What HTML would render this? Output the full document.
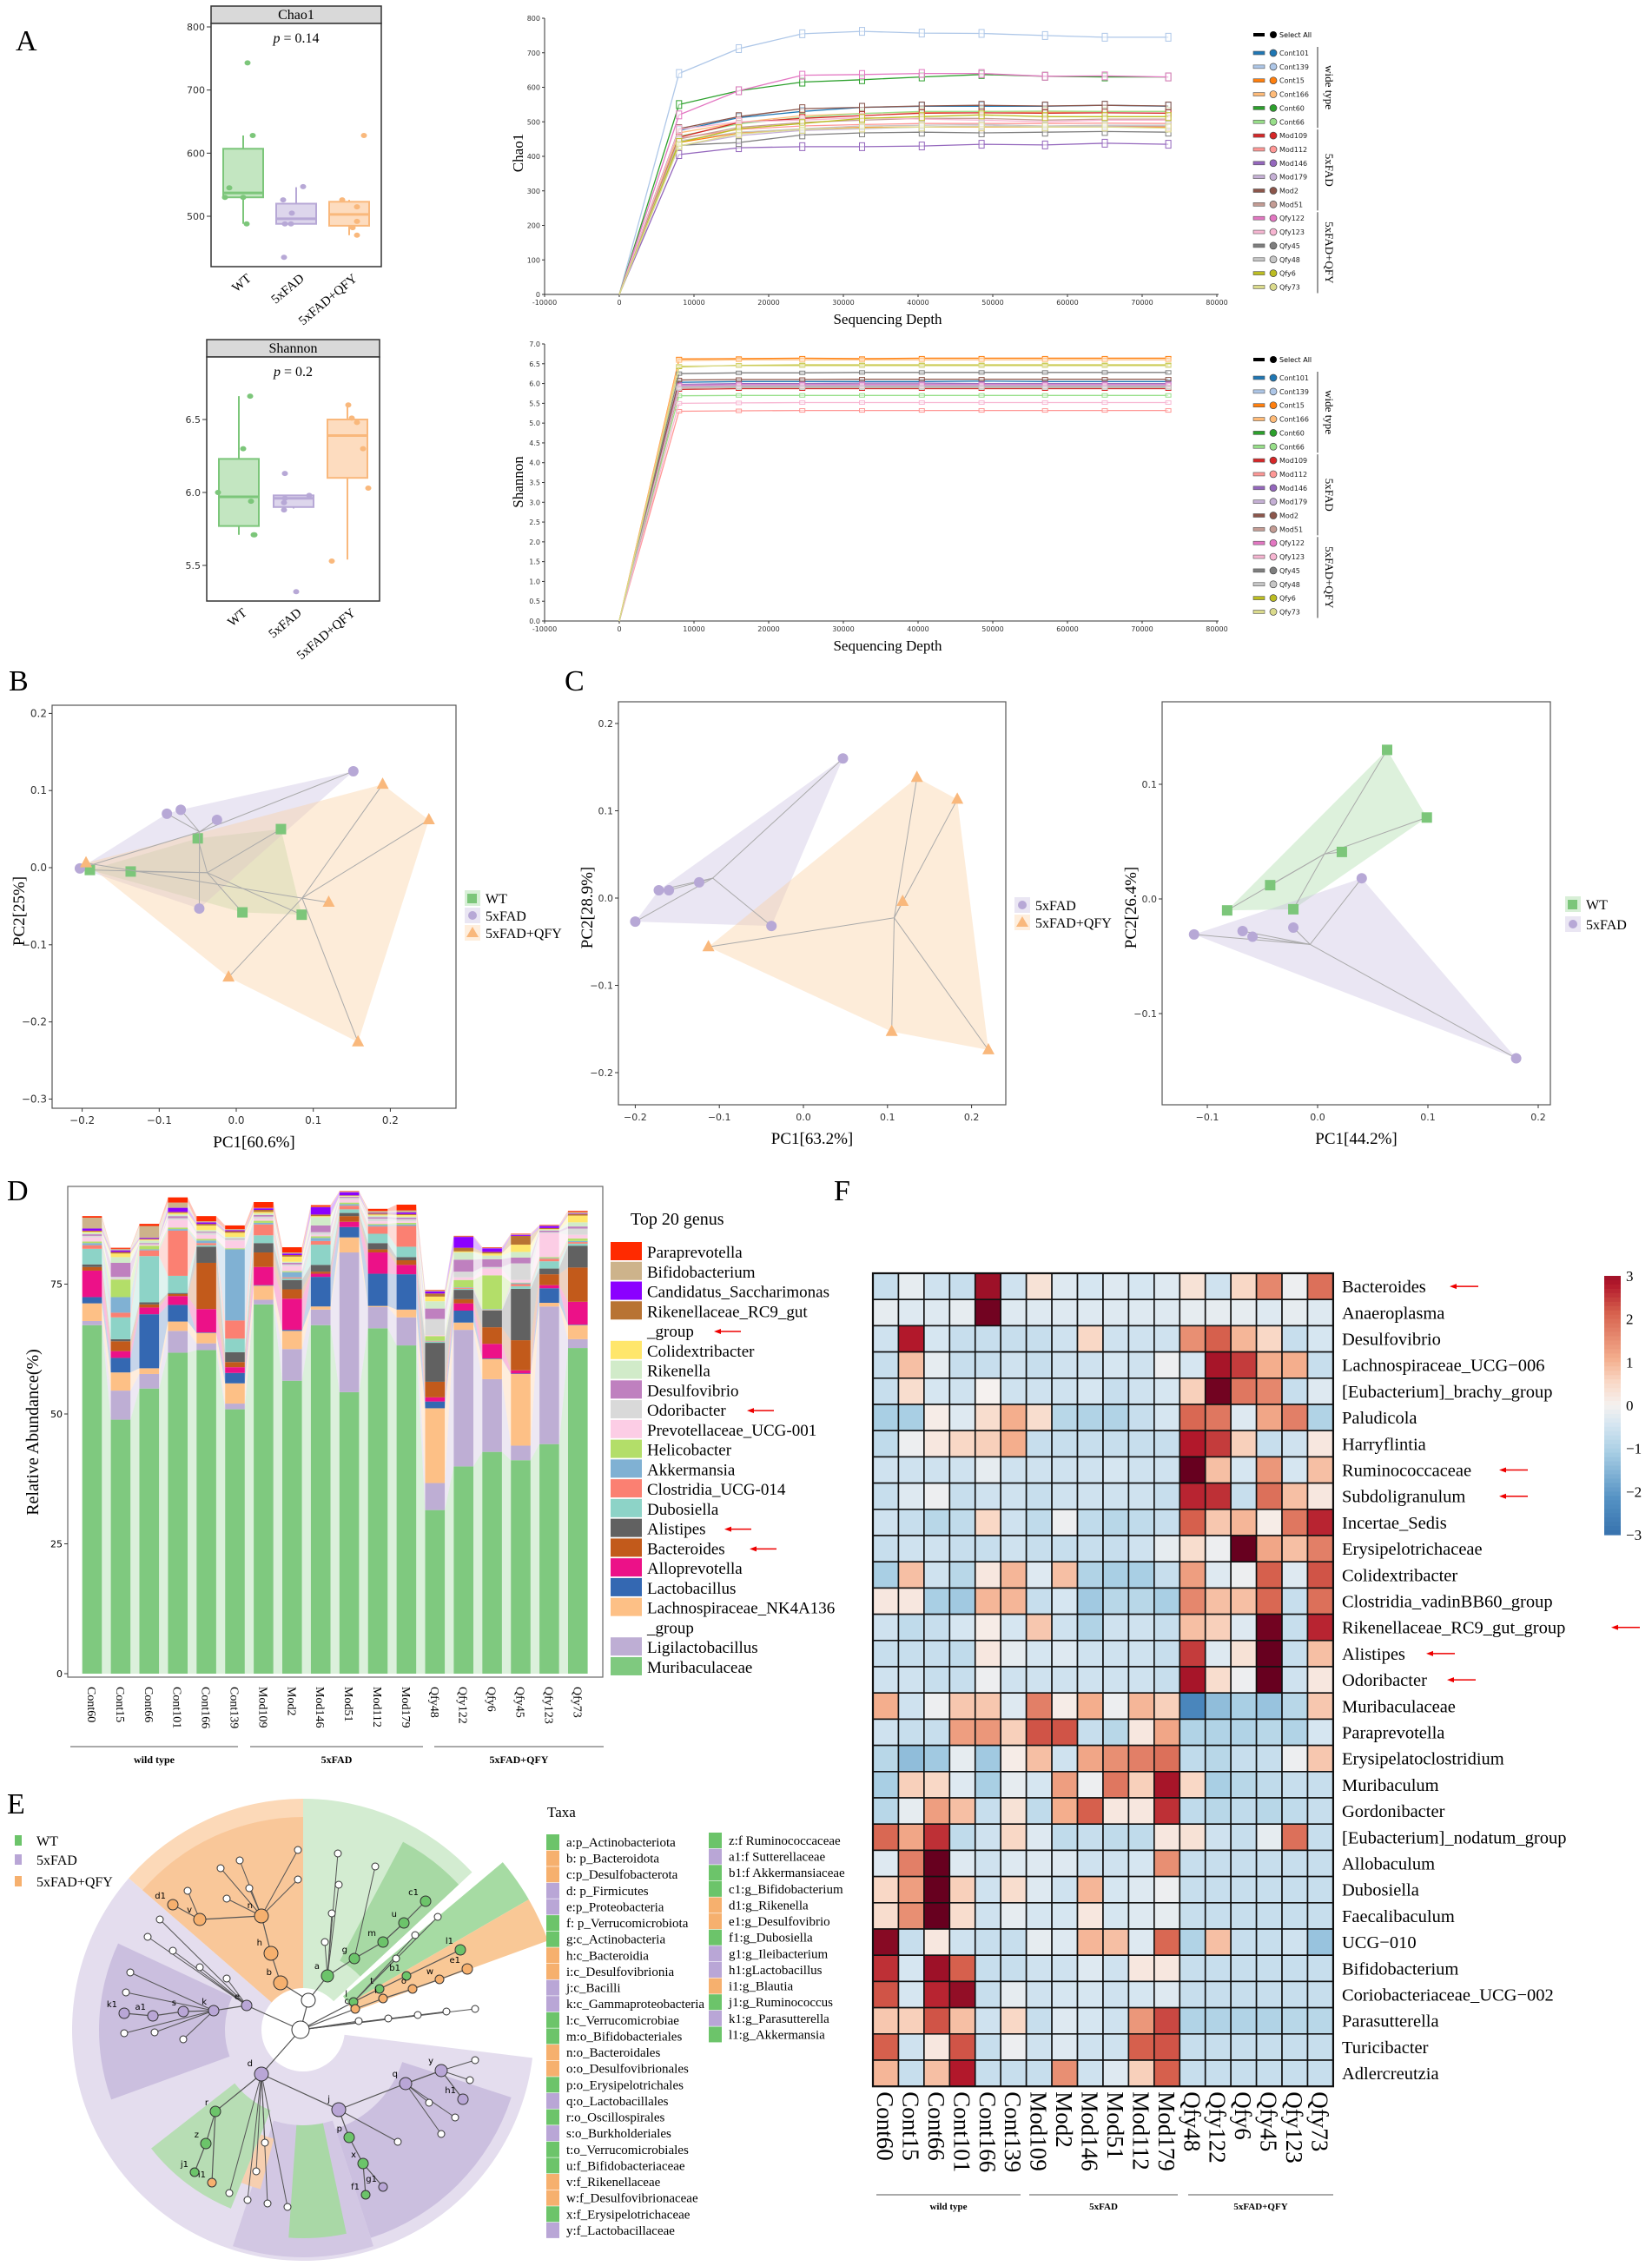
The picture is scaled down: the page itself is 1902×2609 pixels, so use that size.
<!DOCTYPE html>
<html><head><meta charset="utf-8"><title>Microbiome figure</title>
<style>
html,body{margin:0;padding:0;background:#fff;}
svg{display:block;}
text{font-family:"Liberation Serif",serif;}
.sans{font-family:"DejaVu Sans","Liberation Sans",sans-serif;}
</style></head>
<body>
<svg id="fig" xmlns="http://www.w3.org/2000/svg" width="1902" height="2609" viewBox="0 0 1902 2609">
<rect x="0" y="0" width="1902" height="2609" fill="#fff"/>
<text x="18" y="58" font-size="34">A</text>
<text x="10" y="795" font-size="34">B</text>
<text x="650" y="795" font-size="34">C</text>
<text x="8" y="1382" font-size="34">D</text>
<text x="960" y="1382" font-size="34">F</text>
<text x="8" y="2088" font-size="34">E</text>
</svg>
<script>
// ---------------- DATA ----------------
const boxGroups=['WT','5xFAD','5xFAD+QFY'];
const chaoQ1=[530,488,485], chaoMed=[537,496,503], chaoQ3=[607,520,523], chaoLo=[488,488,470], chaoHi=[628,546,526];
const chaoPtsWT=[743,628,545,530,530,488], chaoPts5x=[547,526,505,488,488,435], chaoPtsQ=[628,526,515,492,482,470];
const shQ1=[5.77,5.90,6.10], shMed=[5.97,5.96,6.39], shQ3=[6.23,5.98,6.50], shLo=[5.71,5.89,5.54], shHi=[6.66,5.98,6.60];
const shPtsWT=[6.66,6.30,6.00,5.94,5.71,5.71], shPts5x=[6.13,5.98,5.96,5.93,5.88,5.32], shPtsQ=[6.60,6.51,6.48,6.30,6.03,5.53];
const samples=['Cont101','Cont139','Cont15','Cont166','Cont60','Cont66','Mod109','Mod112','Mod146','Mod179','Mod2','Mod51','Qfy122','Qfy123','Qfy45','Qfy48','Qfy6','Qfy73'];
const depths=[8000,16000,24500,32500,40500,48500,57000,65000,73500];
const chao1Vals=[
[475,512,530,542,545,545,545,548,545],
[640,712,755,762,757,756,750,745,745],
[440,468,478,484,485,485,485,486,485],
[468,498,518,524,528,530,528,530,530],
[550,590,615,622,630,637,632,630,630],
[458,494,513,524,530,530,531,530,530],
[455,498,510,518,525,526,525,526,525],
[452,478,488,492,495,495,495,496,495],
[405,425,428,428,430,435,433,438,435],
[430,460,475,480,485,488,485,488,488],
[480,515,538,542,546,548,546,548,546],
[450,484,498,505,510,510,505,508,508],
[520,590,635,637,640,640,632,633,630],
[478,500,505,512,508,505,500,505,505],
[432,440,462,468,470,468,470,472,470],
[445,470,480,488,490,492,488,490,490],
[440,480,495,510,515,520,515,515,515],
[430,465,478,482,485,486,485,485,482]];
const shannonVals=[
[6.03,6.05,6.05,6.05,6.05,6.06,6.05,6.05,6.05],
[5.93,5.95,5.95,5.95,5.95,5.95,5.95,5.95,5.95],
[6.62,6.63,6.64,6.63,6.64,6.64,6.64,6.64,6.64],
[6.58,6.60,6.60,6.60,6.60,6.60,6.60,6.60,6.60],
[5.89,5.90,5.90,5.90,5.90,5.90,5.90,5.90,5.90],
[5.69,5.70,5.70,5.70,5.70,5.70,5.70,5.70,5.70],
[5.85,5.87,5.87,5.87,5.87,5.87,5.87,5.87,5.87],
[5.30,5.31,5.32,5.32,5.32,5.32,5.32,5.32,5.32],
[5.98,6.00,6.00,6.01,6.01,6.00,6.00,6.00,6.00],
[5.96,5.97,5.98,5.98,5.98,5.98,5.98,5.98,5.98],
[6.09,6.10,6.10,6.11,6.11,6.11,6.11,6.11,6.11],
[5.90,5.92,5.92,5.92,5.92,5.92,5.92,5.92,5.92],
[5.95,5.97,5.97,5.97,5.97,5.97,5.97,5.97,5.97],
[5.50,5.51,5.52,5.52,5.52,5.52,5.52,5.52,5.52],
[6.25,6.27,6.27,6.28,6.28,6.28,6.28,6.28,6.28],
[5.88,5.90,5.90,5.90,5.90,5.90,5.90,5.90,5.90],
[6.42,6.46,6.47,6.47,6.47,6.47,6.47,6.47,6.47],
[6.44,6.45,6.45,6.45,6.45,6.45,6.45,6.45,6.45]];
const sampleColors=['#1f77b4','#aec7e8','#ff7f0e','#ffbb78','#2ca02c','#98df8a','#d62728','#ff9896','#9467bd','#c5b0d5','#8c564b','#c49c94','#e377c2','#f7b6d2','#7f7f7f','#c7c7c7','#bcbd22','#dbdb8d'];
const bWTx=[-0.19,-0.137,-0.05,0.058,0.008,0.085], bWTy=[-0.003,-0.005,0.038,0.05,-0.058,-0.061];
const b5xx=[-0.203,-0.09,-0.072,-0.025,0.152,-0.048], b5xy=[-0.001,0.07,0.075,0.062,0.125,-0.053];
const bQx=[-0.195,0.19,0.25,0.12,-0.01,0.158], bQy=[0.006,0.108,0.062,-0.045,-0.142,-0.226];
const c15xx=[-0.2,-0.172,-0.16,-0.124,0.047,-0.038], c15xy=[-0.027,0.009,0.009,0.018,0.16,-0.032];
const c1Qx=[-0.113,0.135,0.183,0.118,0.105,0.22], c1Qy=[-0.056,0.138,0.113,-0.004,-0.153,-0.174];
const c2WTx=[-0.082,-0.043,-0.022,0.022,0.063,0.099], c2WTy=[-0.01,0.012,-0.009,0.041,0.13,0.071];
const c25xx=[-0.112,-0.068,-0.059,-0.022,0.04,0.18], c25xy=[-0.031,-0.028,-0.033,-0.025,0.018,-0.139];
const barSamples=['Cont60','Cont15','Cont66','Cont101','Cont166','Cont139','Mod109','Mod2','Mod146','Mod51','Mod112','Mod179','Qfy48','Qfy122','Qfy6','Qfy45','Qfy123','Qfy73'];
const genera=['Muribaculaceae','Ligilactobacillus','Lachnospiraceae_NK4A136_group','Lactobacillus','Alloprevotella','Bacteroides','Alistipes','Dubosiella','Clostridia_UCG-014','Akkermansia','Helicobacter','Prevotellaceae_UCG-001','Odoribacter','Desulfovibrio','Rikenella','Colidextribacter','Rikenellaceae_RC9_gut_group','Candidatus_Saccharimonas','Bifidobacterium','Paraprevotella'];
const genusColors=['#7fc97f','#beaed4','#fdc086','#3468b2','#ec1188','#c25a1b','#616161','#8dd3c7','#fb8072','#80b1d3','#b3de69','#fccde5','#d9d9d9','#bf80bf','#d1ebc9','#ffe66b','#b87333','#8b00ff','#cdb38b','#ff2a00'];
const abMuri=[67.1,48.9,54.9,61.8,62.3,50.9,71.1,56.4,67.1,54.2,66.5,63.2,31.5,39.9,42.7,41.1,44.2,62.7];
const abLigi=[0.8,5.6,2.8,4.2,1.3,1.1,0.9,6.1,3.0,26.9,4.1,5.4,5.2,26.3,14.0,2.8,26.5,1.7];
const abLachno=[3.4,3.5,1.1,1.8,2.0,3.9,2.7,3.5,0.6,2.9,0.2,1.5,14.4,1.4,3.9,13.8,0.7,2.7];
const abLacto=[1.2,2.8,10.4,3.2,0.1,2.0,0.1,0.2,5.7,2.0,6.2,6.8,1.3,2.3,0.1,0.1,2.8,0.1];
const abAllo=[5.1,1.3,1.3,1.7,4.5,1.1,3.5,6.0,0.6,1.0,4.1,1.8,0.8,1.4,2.8,0.6,0.6,4.4];
const abBact=[0.7,1.9,0.6,0.4,8.9,1.0,2.8,1.8,0.4,1.1,0.6,0.9,3.0,0.8,3.2,5.8,2.1,6.6];
const abAlist=[0.5,0.4,0.4,0.2,3.1,1.9,1.8,1.8,1.3,0.6,1.2,0.6,7.5,1.8,3.2,9.9,1.1,4.2];
const abDubo=[3.0,4.2,8.9,3.3,0.3,2.6,1.5,0.3,3.9,0.7,1.8,2.0,0.2,0.2,0.1,0.5,1.4,0.4];
const abClostr=[0.7,0.9,1.1,8.7,0.4,3.5,2.1,0.2,0.7,0.7,1.4,4.0,0.1,0.2,0.1,0.4,0.5,0.3];
const abAkk=[0.4,3.0,0.2,0.3,0.5,13.7,0.3,1.0,0.6,0.3,0.3,0.3,0.1,0.1,0.1,0.2,0.1,0.2];
const abHelic=[0.3,3.4,0.7,0.3,0.3,0.2,0.4,0.2,0.3,0.3,0.2,0.3,0.9,1.4,6.5,0.1,0.2,0.5];
const abPrev=[0.8,0.1,0.2,1.5,0.8,1.5,0.4,1.0,0.3,0.6,0.5,0.3,0.2,0.5,1.3,0.5,4.6,0.7];
const abOdor=[0.3,0.4,0.1,0.3,0.4,0.3,0.4,0.3,0.5,0.3,0.5,0.4,3.1,1.1,0.3,3.2,0.2,1.2];
const abDesulf=[0.3,2.7,0.2,0.4,0.2,0.1,0.3,0.3,1.3,0.2,0.3,0.3,2.0,2.3,1.5,1.1,0.3,0.4];
const abRik=[0.3,1.1,0.5,0.3,0.3,0.3,0.3,0.2,1.6,0.1,0.3,0.2,1.4,1.4,0.7,1.1,0.2,0.8];
const abColid=[0.2,0.7,0.2,0.3,0.9,0.8,0.3,1.0,0.2,0.1,0.2,0.3,0.9,0.2,0.4,1.4,0.1,1.3];
const abRC9=[0.2,0.3,0.1,0.2,0.3,0.3,0.4,0.3,0.3,0.1,0.2,0.2,0.6,0.7,0.3,1.7,0.2,0.3];
const abCand=[0.4,0.3,0.2,0.8,0.3,0.2,0.3,0.3,1.4,0.6,0.1,0.3,0.4,2.1,0.7,0.2,0.4,0.1];
const abBifido=[2.1,0.3,2.3,1.0,0.2,0.2,0.1,0.2,0.1,0.1,0.4,0.4,0.2,0.1,0.1,0.1,0.1,0.3];
const abPara=[0.3,0.2,0.4,1.0,1.0,0.7,1.1,1.0,0.3,0.1,0.4,1.1,0.1,0.1,0.1,0.1,0.1,0.2];
const abundance=[abMuri,abLigi,abLachno,abLacto,abAllo,abBact,abAlist,abDubo,abClostr,abAkk,abHelic,abPrev,abOdor,abDesulf,abRik,abColid,abRC9,abCand,abBifido,abPara];
const yTicksD=[0,25,50,75];
const hmCols=['Cont60','Cont15','Cont66','Cont101','Cont166','Cont139','Mod109','Mod2','Mod146','Mod51','Mod112','Mod179','Qfy48','Qfy122','Qfy6','Qfy45','Qfy123','Qfy73'];
const hmRows=['Bacteroides','Anaeroplasma','Desulfovibrio','Lachnospiraceae_UCG\u2212006','[Eubacterium]_brachy_group','Paludicola','Harryflintia','Ruminococcaceae','Subdoligranulum','Incertae_Sedis','Erysipelotrichaceae','Colidextribacter','Clostridia_vadinBB60_group','Rikenellaceae_RC9_gut_group','Alistipes','Odoribacter','Muribaculaceae','Paraprevotella','Erysipelatoclostridium','Muribaculum','Gordonibacter','[Eubacterium]_nodatum_group','Allobaculum','Dubosiella','Faecalibaculum','UCG\u2212010','Bifidobacterium','Coriobacteriaceae_UCG\u2212002','Parasutterella','Turicibacter','Adlercreutzia'];
const hmVals=[
[-0.6,-0.2,-0.5,-0.6,2.8,-0.5,0.3,-0.3,-0.4,-0.3,-0.4,-0.3,0.3,-0.5,0.5,1.5,-0.1,1.8],
[-0.2,-0.3,-0.3,-0.2,3.2,-0.3,-0.3,-0.3,-0.3,-0.3,-0.3,-0.3,-0.2,-0.2,-0.2,-0.3,-0.2,-0.3],
[-0.5,2.6,-0.4,-0.6,-0.6,-0.6,-0.6,-0.5,0.5,-0.5,-0.5,-0.5,1.4,2.0,0.9,0.5,-0.6,-0.4],
[-0.6,0.8,-0.2,-0.6,-0.6,-0.5,-0.6,-0.5,-0.5,-0.4,-0.5,-0.1,-0.4,2.7,2.3,1.0,1.0,-0.6],
[-0.6,0.4,-0.4,-0.5,0.0,-0.5,-0.5,-0.5,-0.4,-0.6,-0.5,-0.4,0.6,3.2,1.7,1.5,-0.6,-0.3],
[-1.0,-1.0,0.1,-0.3,0.4,1.0,0.4,-0.8,-0.9,-0.9,-0.6,-0.4,1.9,1.7,-0.3,1.1,1.6,-0.9],
[-0.7,-0.1,0.2,0.5,0.6,1.0,-0.6,-0.6,-0.6,-0.6,-0.6,-0.6,2.6,2.3,0.6,-0.6,-0.5,0.2],
[-0.5,-0.5,-0.5,-0.5,-0.2,-0.5,-0.5,-0.5,-0.5,-0.4,-0.5,-0.5,3.3,0.8,-0.4,1.3,-0.4,0.8],
[-0.6,-0.3,-0.1,-0.6,-0.5,-0.5,-0.6,-0.5,-0.5,-0.5,-0.5,-0.6,2.5,2.4,-0.6,1.8,0.8,0.2],
[-0.5,-0.6,-0.8,-0.7,0.5,-0.5,-0.7,-0.1,-0.7,-0.8,-0.7,-0.6,2.0,0.7,0.9,0.1,1.7,2.5],
[-0.6,-0.5,-0.5,-0.6,-0.6,-0.5,-0.6,-0.6,-0.6,-0.6,-0.5,-0.2,0.4,-0.1,3.3,1.1,0.8,1.6],
[-1.0,0.8,-0.5,-0.8,0.2,0.9,-0.3,0.8,-0.9,-1.0,-1.0,-0.6,1.2,-0.3,-0.1,2.0,-0.3,2.1],
[0.2,0.2,-1.0,-1.1,0.9,0.9,-0.6,-0.4,-1.1,-0.8,-0.8,-1.0,1.5,0.8,0.8,1.9,-0.6,1.8],
[-0.5,-0.7,-0.6,-0.4,0.1,-0.4,0.7,-0.5,-0.9,-0.5,-0.5,-0.6,0.8,0.6,-0.3,3.2,-0.6,2.5],
[-0.6,-0.6,-0.6,-0.7,0.2,-0.2,-0.4,-0.3,-0.5,-0.5,-0.5,-0.6,2.3,-0.3,0.3,3.3,-0.6,0.8],
[-0.5,-0.5,-0.6,-0.6,-0.1,-0.5,-0.5,-0.5,-0.5,-0.5,-0.5,-0.6,2.7,0.4,-0.1,3.3,-0.5,0.2],
[1.0,-0.5,-0.1,0.7,0.7,-0.3,1.6,0.1,1.0,-0.1,0.9,0.6,-2.3,-1.3,-1.0,-1.2,-0.8,0.7],
[-0.5,-0.6,-0.6,1.2,1.3,0.6,2.1,2.1,-0.6,-0.8,0.2,1.1,-0.9,-0.9,-0.9,-0.8,-0.9,-0.4],
[-0.8,-1.3,-1.1,-0.2,-1.1,0.1,0.8,-0.5,1.1,1.4,1.6,1.8,-0.7,-0.8,-0.6,-0.6,-0.1,0.7],
[-1.0,0.6,0.5,-0.3,-1.0,-0.2,-0.4,1.2,-0.1,1.7,0.6,2.7,0.5,-1.0,-0.8,-0.7,-0.6,-0.6],
[-0.8,-0.2,1.2,0.8,-0.6,0.3,-0.7,1.0,2.0,0.2,0.2,2.4,-0.7,-0.8,-0.7,-0.8,-0.7,-0.6],
[1.9,1.1,2.4,-0.7,-0.5,0.5,-0.3,-0.7,-0.6,-0.7,-0.7,0.2,0.3,-0.5,-0.6,-0.2,1.8,-0.6],
[-0.3,1.6,3.3,-0.3,-0.5,-0.3,-0.3,-0.3,-0.5,-0.5,-0.4,1.4,-0.6,-0.6,-0.6,-0.6,-0.6,-0.6],
[0.5,1.2,3.3,0.6,-0.5,0.4,-0.3,-0.5,0.9,-0.4,-0.3,-0.1,-0.6,-0.6,-0.6,-0.6,-0.6,-0.6],
[0.4,1.4,3.3,0.4,-0.5,-0.2,-0.4,-0.4,0.2,-0.4,-0.3,-0.2,-0.6,-0.6,-0.6,-0.6,-0.6,-0.6],
[3.0,-0.6,0.2,-0.5,-0.6,-0.6,-0.2,-0.3,0.9,0.8,-0.3,1.9,-0.9,0.8,-0.6,-0.6,-0.5,-1.2],
[2.4,-0.4,2.8,2.0,-0.6,-0.6,-0.5,-0.5,-0.3,-0.5,0.2,0.2,-0.6,-0.6,-0.6,-0.6,-0.6,-0.6],
[2.1,-0.4,2.5,2.9,-0.6,-0.2,-0.5,-0.4,-0.4,-0.5,-0.4,-0.3,-0.6,-0.6,-0.6,-0.6,-0.6,-0.6],
[0.7,0.6,2.1,0.8,-0.5,0.5,-0.6,-0.3,-0.4,-0.5,1.3,2.2,-0.9,-0.9,-0.9,-0.9,-0.8,-0.8],
[2.0,-0.5,0.2,2.1,-0.6,-0.1,-0.5,-0.3,-0.5,-0.5,2.0,2.1,-0.6,-0.6,-0.6,-0.6,-0.6,-0.6],
[0.9,-0.6,0.8,2.6,-0.6,-0.6,-0.6,1.4,-0.5,-0.3,0.6,2.0,-0.6,-0.6,-0.6,-0.6,-0.6,-0.6]];
const hmArrowRows=[0,7,8,13,14,15];
const colorbarTicks=[3,2,1,0,-1,-2,-3];

// ---------------- HELPERS ----------------
const NS='http://www.w3.org/2000/svg';
const svg=document.getElementById('fig');
function mk(tag,attrs,parent){const e=document.createElementNS(NS,tag);for(const k in attrs)e.setAttribute(k,attrs[k]);(parent||svg).appendChild(e);return e;}
function tx(str,attrs,parent){const e=mk('text',attrs,parent);e.textContent=str;return e;}
function lerp(a,b,t){return a+(b-a)*t;}
function hexToRgb(h){return [parseInt(h.slice(1,3),16),parseInt(h.slice(3,5),16),parseInt(h.slice(5,7),16)];}
function hull(pts){const p=pts.slice().sort((a,b)=>a[0]-b[0]||a[1]-b[1]);const cr=(o,a,b)=>(a[0]-o[0])*(b[1]-o[1])-(a[1]-o[1])*(b[0]-o[0]);const lo=[],up=[];for(const q of p){while(lo.length>=2&&cr(lo[lo.length-2],lo[lo.length-1],q)<=0)lo.pop();lo.push(q);}for(let i=p.length-1;i>=0;i--){const q=p[i];while(up.length>=2&&cr(up[up.length-2],up[up.length-1],q)<=0)up.pop();up.push(q);}up.pop();lo.pop();return lo.concat(up);}

// ---------------- A: BOXPLOTS ----------------
const grpStroke=['#7cc67a','#b7a8d6','#f9b87c'], grpFill=['#c3e6c1','#ddd6ec','#fddcbf'];
function drawBox(cfg){
  const g=mk('g',{});
  
  
  mk('rect',{x:cfg.x0,y:cfg.hy,width:cfg.x1-cfg.x0,height:cfg.py-cfg.hy,fill:'#d9d9d9',stroke:'#333','stroke-width':1.5},g);
  const ht=tx(cfg.title,{x:(cfg.x0+cfg.x1)/2,y:cfg.py-5,'font-size':16,'text-anchor':'middle'},g);
  
  
  mk('rect',{x:cfg.x0,y:cfg.py,width:cfg.x1-cfg.x0,height:cfg.by-cfg.py,fill:'#fff',stroke:'#333','stroke-width':1.5},g);
  const pt=tx('',{x:(cfg.x0+cfg.x1)/2,y:cfg.py+22,'font-size':16,'text-anchor':'middle'},g);
  pt.innerHTML='<tspan font-style="italic">p</tspan> = '+cfg.p;
  
  
  cfg.ticks.forEach(t=>{const y=cfg.ys(t);mk('line',{x1:cfg.x0-5,x2:cfg.x0,y1:y,y2:y,stroke:'#333'},g);
    const tl=tx(cfg.fmt(t),{x:cfg.x0-7,y:y+4,'font-size':11,'text-anchor':'end',class:'sans',fill:'#333'},g);
    
    });
  boxGroups.forEach((gn,i)=>{const cx=cfg.cx[i],w=23;
    mk('line',{x1:cx,x2:cx,y1:cfg.ys(cfg.hi[i]),y2:cfg.ys(cfg.lo[i]),stroke:grpStroke[i],'stroke-width':2},g);
    const b=mk('rect',{x:cx-w,y:cfg.ys(cfg.q3[i]),width:2*w,height:cfg.ys(cfg.q1[i])-cfg.ys(cfg.q3[i]),fill:grpFill[i],stroke:grpStroke[i],'stroke-width':2},g);
    
    
    mk('line',{x1:cx-w,x2:cx+w,y1:cfg.ys(cfg.med[i]),y2:cfg.ys(cfg.med[i]),stroke:grpStroke[i],'stroke-width':3},g);
    cfg.pts[i].forEach((v,j)=>{const c=mk('ellipse',{cx:cx+cfg.jit[i][j],cy:cfg.ys(v),rx:3.5,ry:3,fill:grpStroke[i]},g);
      
      });
    const xl=tx(gn,{x:0,y:0,'font-size':15,'text-anchor':'end',transform:`translate(${cx+10},${cfg.by+15}) rotate(-40)`},g);
    
    
  });
}
drawBox({name:'chao1-boxplot',title:'Chao1',p:'0.14',x0:243,x1:439,hy:7,py:27,by:307,ys:v=>31+(800-v)*0.7267,ticks:[800,700,600,500],fmt:t=>String(t),
  cx:[280,341,402],q1:chaoQ1,med:chaoMed,q3:chaoQ3,lo:chaoLo,hi:chaoHi,pts:[chaoPtsWT,chaoPts5x,chaoPtsQ],
  jit:[[5,11,-16,-21,0,4],[8,-15,-5,-13,-6,-14],[17,-8,9,9,4,9]]});
drawBox({name:'shannon-boxplot',title:'Shannon',p:'0.2',x0:238,x1:437,hy:391,py:411,by:692,ys:v=>567-(v-6.0)*168,ticks:[6.5,6.0,5.5],fmt:t=>t.toFixed(1),
  cx:[275,338,400],q1:shQ1,med:shMed,q3:shQ3,lo:shLo,hi:shHi,pts:[shPtsWT,shPts5x,shPtsQ],
  jit:[[13,5,-24,14,17,18],[-10,18,-10,-11,-11,3],[1,5,11,18,24,-18]]});

// ---------------- A: RAREFACTION ----------------
function drawRare(cfg){
  const g=mk('g',{});
  
  
  const xs=d=>713+d*0.0086;
  mk('line',{x1:627,x2:1403,y1:cfg.ys(0),y2:cfg.ys(0),stroke:'#333'},g);
  mk('line',{x1:627,x2:627,y1:cfg.ys(cfg.ymax),y2:cfg.ys(0),stroke:'#333'},g);
  for(let d=-10000;d<=80000;d+=10000){const x=xs(d);mk('line',{x1:x,x2:x,y1:cfg.ys(0),y2:cfg.ys(0)+3,stroke:'#333'},g);
    const t=tx(String(d),{x:x,y:cfg.ys(0)+12,'font-size':8,'text-anchor':'middle',class:'sans',fill:'#333'},g);
    
    }
  cfg.yt.forEach(v=>{const y=cfg.ys(v);mk('line',{x1:624,x2:627,y1:y,y2:y,stroke:'#333'},g);
    const t=tx(cfg.fmt(v),{x:622,y:y+3,'font-size':8,'text-anchor':'end',class:'sans',fill:'#333'},g);
    
    });
  const xt=tx('Sequencing Depth',{x:1022,y:cfg.ys(0)+34,'font-size':17,'text-anchor':'middle'},g);
  
  
  const yt=tx(cfg.ytitle,{x:0,y:0,'font-size':17,'text-anchor':'middle',transform:`translate(602,${cfg.ytY}) rotate(-90)`},g);
  
  
  cfg.vals.forEach((arr,i)=>{
    let d='M'+xs(0)+','+cfg.ys(0);
    arr.forEach((v,j)=>{d+=' L'+xs(depths[j]).toFixed(1)+','+cfg.ys(v).toFixed(1);});
    const p=mk('path',{d:d,fill:'none',stroke:sampleColors[i],'stroke-width':1.3},g);
    
    
    arr.forEach((v,j)=>{const r=mk('rect',{x:xs(depths[j])-3,y:cfg.ys(v)-cfg.bh/2,width:6,height:cfg.bh,fill:'#fff','fill-opacity':0.5,stroke:sampleColors[i],'stroke-width':1},g);
      
      });
  });
  const lg=mk('g',{},g);
  
  
  const sa=cfg.ly0;
  mk('rect',{x:1443,y:sa-2,width:13,height:4,fill:'#000'},lg);
  mk('circle',{cx:1466,cy:sa,r:4,fill:'#000'},lg);
  const st=tx('Select All',{x:1473,y:sa+3,'font-size':8,class:'sans'},lg);
  
  
  samples.forEach((s,i)=>{const y=sa+21+i*15.85;
    mk('rect',{x:1443,y:y-2,width:13,height:4,fill:sampleColors[i],stroke:'#555','stroke-width':0.6},lg);
    mk('circle',{cx:1466,cy:y,r:4,fill:sampleColors[i],stroke:'#444','stroke-width':0.7},lg);
    const t=tx(s,{x:1473,y:y+3,'font-size':8,class:'sans',fill:'#222'},lg);
    
    });
  ['wide type','5xFAD','5xFAD+QFY'].forEach((gn,k)=>{const y0=sa+21+k*6*15.85-7,y1=sa+21+(k*6+5)*15.85+7;
    mk('line',{x1:1517,x2:1517,y1:y0,y2:y1,stroke:'#333'},lg);
    const t=tx(gn,{x:0,y:0,'font-size':13,'text-anchor':'middle',transform:`translate(1526,${(y0+y1)/2}) rotate(90)`},lg);
    
    });
}
drawRare({name:'chao1-rarefaction',vals:chao1Vals,ys:v=>339-v*0.3975,ymax:800,yt:[0,100,200,300,400,500,600,700,800],fmt:v=>String(v),ytitle:'Chao1',ytY:176,bh:9,ly0:40});
drawRare({name:'shannon-rarefaction',vals:shannonVals,ys:v=>715-v*45.57,ymax:7,yt:[0,0.5,1,1.5,2,2.5,3,3.5,4,4.5,5,5.5,6,6.5,7],fmt:v=>v.toFixed(1),ytitle:'Shannon',ytY:555,bh:4,ly0:414});

// ---------------- B/C: PCoA ----------------
const pcStyle={WT:{col:'#7cc67a',fill:'#8fd18c',op:0.3,shape:'sq'},'5xFAD':{col:'#b7a8d6',fill:'#c2b6de',op:0.35,shape:'ci'},'5xFAD+QFY':{col:'#f9b87c',fill:'#fbcf9f',op:0.4,shape:'tr'}};
function drawPCoA(cfg){
  const g=mk('g',{});
  
  
  const [x0,y0,x1,y1]=cfg.frame;
  mk('rect',{x:x0,y:y0,width:x1-x0,height:y1-y0,fill:'#fff',stroke:'#555','stroke-width':1.2},g);
  cfg.xt.forEach(v=>{const x=cfg.xs(v);mk('line',{x1:x,x2:x,y1:y1,y2:y1+4,stroke:'#333'},g);
    const t=tx(v===0?'0.0':String(v).replace('-','\u2212'),{x:x,y:y1+18,'font-size':cfg.fs,'text-anchor':'middle',class:'sans',fill:'#333'},g);
    
    });
  cfg.yt.forEach(v=>{const y=cfg.ys(v);mk('line',{x1:x0-4,x2:x0,y1:y,y2:y,stroke:'#333'},g);
    const t=tx(v===0?'0.0':String(v).replace('-','\u2212'),{x:x0-6,y:y+4,'font-size':cfg.fs,'text-anchor':'end',class:'sans',fill:'#333'},g);
    
    });
  const xl=tx(cfg.xlab,{x:(x0+x1)/2,y:y1+45,'font-size':19,'text-anchor':'middle'},g);
  
  
  const yl=tx(cfg.ylab,{x:0,y:0,'font-size':19,'text-anchor':'middle',transform:`translate(${cfg.ylx},${(y0+y1)/2+5}) rotate(-90)`},g);
  
  
  cfg.groups.forEach(gr=>{const st=pcStyle[gr.name];const pts=gr.x.map((v,i)=>[cfg.xs(v),cfg.ys(gr.y[i])]);
    const h=hull(pts);const poly=mk('polygon',{points:h.map(p=>p.join(',')).join(' '),fill:st.fill,'fill-opacity':st.op,stroke:'none'},g);
    
    });
  cfg.groups.forEach(gr=>{const st=pcStyle[gr.name];
    const mx=gr.x.reduce((a,b)=>a+b,0)/gr.x.length,my=gr.y.reduce((a,b)=>a+b,0)/gr.y.length;
    gr.x.forEach((v,i)=>{mk('line',{x1:cfg.xs(mx),y1:cfg.ys(my),x2:cfg.xs(v),y2:cfg.ys(gr.y[i]),stroke:'#aaa','stroke-width':1},g);});
    gr.x.forEach((v,i)=>{const px=cfg.xs(v),py=cfg.ys(gr.y[i]);let m;
      if(st.shape==='sq')m=mk('rect',{x:px-6,y:py-6,width:12,height:12,fill:st.col},g);
      else if(st.shape==='ci')m=mk('circle',{cx:px,cy:py,r:6,fill:st.col},g);
      else m=mk('polygon',{points:`${px},${py-8} ${px-7},${py+5} ${px+7},${py+5}`,fill:st.col},g);
      
      });
  });
  cfg.groups.forEach((gr,k)=>{const st=pcStyle[gr.name];const y=cfg.ly+k*cfg.lsp;
    mk('rect',{x:cfg.lx-8,y:y-9,width:18,height:18,fill:st.fill,'fill-opacity':0.35},g);
    if(st.shape==='sq')mk('rect',{x:cfg.lx-5,y:y-5,width:11,height:11,fill:st.col},g);
    else if(st.shape==='ci')mk('circle',{cx:cfg.lx+1,cy:y,r:5,fill:st.col},g);
    else mk('polygon',{points:`${cfg.lx+1},${y-7} ${cfg.lx-6},${y+5} ${cfg.lx+8},${y+5}`,fill:st.col},g);
    const t=tx(gr.name,{x:cfg.lx+16,y:y+6,'font-size':16},g);
    
    });
}
drawPCoA({name:'pcoa-all-groups',frame:[60,812,525,1276],xs:v=>272+v*887,ys:v=>999-v*888,xt:[-0.2,-0.1,0,0.1,0.2],yt:[0.2,0.1,0,-0.1,-0.2,-0.3],fs:12,
  xlab:'PC1[60.6%]',ylab:'PC2[25%]',ylx:28,groups:[{name:'WT',x:bWTx,y:bWTy},{name:'5xFAD',x:b5xx,y:b5xy},{name:'5xFAD+QFY',x:bQx,y:bQy}],lx:543,ly:1034,lsp:20});
drawPCoA({name:'pcoa-5xfad-vs-qfy',frame:[712,808,1158,1272],xs:v=>925+v*968,ys:v=>1034-v*1005,xt:[-0.2,-0.1,0,0.1,0.2],yt:[0.2,0.1,0,-0.1,-0.2],fs:11,
  xlab:'PC1[63.2%]',ylab:'PC2[28.9%]',ylx:682,groups:[{name:'5xFAD',x:c15xx,y:c15xy},{name:'5xFAD+QFY',x:c1Qx,y:c1Qy}],lx:1176,ly:1042,lsp:20});
drawPCoA({name:'pcoa-wt-vs-5xfad',frame:[1338,808,1785,1272],xs:v=>1517+v*1270,ys:v=>1035-v*1320,xt:[-0.1,0,0.1,0.2],yt:[0.1,0,-0.1],fs:11,
  xlab:'PC1[44.2%]',ylab:'PC2[26.4%]',ylx:1308,groups:[{name:'WT',x:c2WTx,y:c2WTy},{name:'5xFAD',x:c25xx,y:c25xy}],lx:1810,ly:1041,lsp:23});

// ---------------- D: STACKED BARS ----------------
(function(){
  const g=mk('g',{});
  
  
  const ys=v=>1927-v*5.98, xs=i=>106+i*32.9, bw=22.6;
  mk('rect',{x:78,y:1366,width:616,height:565,fill:'#fff',stroke:'#666','stroke-width':1.2},g);
  for(let i=0;i<barSamples.length-1;i++){let c0=0,c1=0;
    abundance.forEach((arr,k)=>{const a0=c0,a1=c1;c0+=arr[i];c1+=arr[i+1];
      const r=mk('polygon',{points:`${xs(i)+bw/2},${ys(a0)} ${xs(i)+bw/2},${ys(c0)} ${xs(i+1)-bw/2},${ys(c1)} ${xs(i+1)-bw/2},${ys(a1)}`,fill:genusColors[k],'fill-opacity':0.28},g);
      
      });}
  barSamples.forEach((s,i)=>{let cum=0;
    abundance.forEach((arr,k)=>{const v=arr[i];
      const r=mk('rect',{x:xs(i)-bw/2,y:ys(cum+v),width:bw,height:v*5.98,fill:genusColors[k]},g);
      
      
      cum+=v;});
    const t=tx(s,{x:0,y:0,'font-size':14,transform:`translate(${xs(i)-5},1942) rotate(90)`},g);
    
    });
  yTicksD.forEach(v=>{const y=ys(v);mk('line',{x1:74,x2:78,y1:y,y2:y,stroke:'#333'},g);
    const t=tx(String(v),{x:72,y:y+4,'font-size':11,'text-anchor':'end',class:'sans'},g);
    
    });
  const yt=tx('Relative Abundance(%)',{x:0,y:0,'font-size':20,'text-anchor':'middle',transform:'translate(44,1649) rotate(-90)'},g);
  
  
  [['wild type',81,274],['5xFAD',288,487],['5xFAD+QFY',500,695]].forEach(([n,a,b])=>{
    mk('line',{x1:a,x2:b,y1:2011,y2:2011,stroke:'#555'},g);
    const t=tx(n,{x:(a+b)/2,y:2030,'font-size':12,'font-weight':'bold','text-anchor':'middle'},g);
    
    });
  const lg=mk('g',{},g);
  
  
  const lt=tx('Top 20 genus',{x:726,y:1410,'font-size':20},lg);
  
  
  const rows=[['Paraprevotella',19],['Bifidobacterium',18],['Candidatus_Saccharimonas',17],['Rikenellaceae_RC9_gut',16],['_group',-1,'arrow'],['Colidextribacter',15],['Rikenella',14],['Desulfovibrio',13],['Odoribacter',12,'arrow'],['Prevotellaceae_UCG-001',11],['Helicobacter',10],['Akkermansia',9],['Clostridia_UCG-014',8],['Dubosiella',7],['Alistipes',6,'arrow'],['Bacteroides',5,'arrow'],['Alloprevotella',4],['Lactobacillus',3],['Lachnospiraceae_NK4A136',2],['_group',-1],['Ligilactobacillus',1],['Muribaculaceae',0]];
  const arrowX={4:822,8:860,14:834,15:863};
  rows.forEach((r,i)=>{const y=1441+i*22.76;
    if(r[1]>=0){const sq=mk('rect',{x:703,y:y-11,width:36,height:21,fill:genusColors[r[1]]},lg);
      
      }
    const t=tx(r[0],{x:745,y:y+7,'font-size':19},lg);
    
    
    if(r[2]){const ax=arrowX[i];mk('line',{x1:ax+5,x2:ax+31,y1:y+1,y2:y+1,stroke:'#e00','stroke-width':1.5},lg);
      mk('polygon',{points:`${ax},${y+1} ${ax+8},${y-2} ${ax+8},${y+4}`,fill:'#e00'},lg);}
  });
})();

// ---------------- E: CLADOGRAM ----------------
const cladeCol={G:'#6cc46a',O:'#f6b06e',L:'#b9a6d6',W:'#ffffff'};
const cladeNodes=[
['',346,2337,-1,'W',10],['',355,2303,0,'W',8],['a',377,2275,1,'G',7],['b',323,2283,1,'O',8],['h',312,2249,3,'O',8],['n',301,2206,4,'O',8],
['v',230,2210,5,'O',7],['d1',199,2193,6,'O',6],['e',284,2309,0,'L',6],['k',246,2315,8,'L',6],['s',211,2316,9,'L',6],['a1',176,2321,10,'L',6],['k1',143,2318,11,'L',6],
['d',301,2388,0,'L',8],['j',390,2429,13,'L',8],['q',467,2399,14,'L',7],['y',508,2384,15,'L',7],['h1',533,2417,16,'L',6],
['r',248,2431,13,'G',6],['z',237,2468,18,'G',6],['j1',224,2501,19,'G',5],['i1',244,2513,18,'O',5],['p',402,2461,14,'G',6],['x',418,2491,22,'G',6],['f1',421,2527,23,'G',5],['g1',441,2518,23,'L',5],
['g',408,2255,2,'G',6],['m',441,2236,26,'G',6],['u',465,2214,27,'G',6],['c1',490,2189,28,'G',6],
['l',407,2305,0,'G',5],['t',437,2290,30,'G',5],['b1',468,2275,31,'G',5],['l1',530,2245,32,'G',6],
['c',409,2313,0,'O',5],['i',441,2301,34,'O',5],['o',475,2290,35,'O',5],['w',506,2279,36,'O',5],['e1',538,2267,37,'O',6]];
const cladeLeaves=[[343,2130,5],[343,2164,5],[276,2142,5],[287,2174,5],[254,2151,5],[261,2186,5],[216,2177,6],[389,2134,2],[390,2170,2],[382,2203,2],[374,2236,2],[432,2149,26],
[504,2207,30],[478,2228,30],[456,2255,30],[547,2313,0],[514,2316,0],[481,2320,0],[447,2324,0],[413,2327,0],
[184,2210,8],[170,2230,8],[199,2246,8],[230,2265,8],[261,2278,8],[150,2271,9],[145,2294,9],[143,2341,9],[178,2340,9],[211,2348,9],
[547,2372,16],[541,2395,16],[524,2438,15],[494,2421,15],[508,2457,15],[458,2466,14],[305,2467,13],[295,2500,13],[264,2525,13],[285,2533,13],[308,2537,13],[331,2541,13]];
const taxaCol1=[['a:p_Actinobacteriota','G'],['b: p_Bacteroidota','O'],['c:p_Desulfobacterota','O'],['d: p_Firmicutes','L'],['e:p_Proteobacteria','L'],['f: p_Verrucomicrobiota','G'],['g:c_Actinobacteria','G'],['h:c_Bacteroidia','O'],['i:c_Desulfovibrionia','O'],['j:c_Bacilli','L'],['k:c_Gammaproteobacteria','L'],['l:c_Verrucomicrobiae','G'],['m:o_Bifidobacteriales','G'],['n:o_Bacteroidales','O'],['o:o_Desulfovibrionales','O'],['p:o_Erysipelotrichales','G'],['q:o_Lactobacillales','L'],['r:o_Oscillospirales','G'],['s:o_Burkholderiales','L'],['t:o_Verrucomicrobiales','G'],['u:f_Bifidobacteriaceae','G'],['v:f_Rikenellaceae','O'],['w:f_Desulfovibrionaceae','O'],['x:f_Erysipelotrichaceae','G'],['y:f_Lactobacillaceae','L']];
const taxaCol2=[['z:f Ruminococcaceae','G'],['a1:f Sutterellaceae','L'],['b1:f Akkermansiaceae','G'],['c1:g_Bifidobacterium','G'],['d1:g_Rikenella','O'],['e1:g_Desulfovibrio','O'],['f1:g_Dubosiella','G'],['g1:g_Ileibacterium','L'],['h1:gLactobacillus','L'],['i1:g_Blautia','O'],['j1:g_Ruminococcus','G'],['k1:g_Parasutterella','L'],['l1:g_Akkermansia','G']];
(function(){
  const g=mk('g',{});
  
  
  const C=[349,2337];
  function wedge(a0,a1,r0,r1,fill,name){const rad=Math.PI/180;const p=(r,a)=>[C[0]+r*Math.cos(a*rad),C[1]+r*Math.sin(a*rad)];
    const A=p(r1,a0),B=p(r1,a1),Cc=p(r0,a1),D=p(r0,a0);const lg=(a1-a0)>180?1:0;
    const w=mk('path',{d:`M${A} A${r1},${r1} 0 ${lg} 1 ${B} L${Cc} A${r0},${r0} 0 ${lg} 0 ${D}Z`,fill:fill},g);
    
    }
  wedge(7,221,0,266,'#e4ddee','clade-5xfad-background');
  wedge(-139,-90,0,266,'#fcd9b8','clade-qfy-outer');
  wedge(-139,-90,0,245,'#f9c799','clade-bacteroidota');
  wedge(-90,-43,0,266,'#d3ecd1','clade-actinobacteriota');
  wedge(-62,-43,90,245,'#a7d9a4','clade-bifidobacteriales');
  wedge(160,205,90,235,'#cbbfdf','clade-gammaproteobacteria');
  wedge(18,72,120,252,'#cbbfdf','clade-lactobacillaceae');
  wedge(72,108,110,262,'#d2c7e3','clade-bacilli');
  wedge(112,142,100,222,'#b7ddb4','clade-oscillospirales');
  wedge(78,94,110,240,'#a9d8a6','clade-erysipelotrichales');
  wedge(105,112,130,190,'#f6cfb0','clade-blautia');
  wedge(-40,-30,60,300,'#a6dba3','clade-verrucomicrobia');
  wedge(-30,-20,60,300,'#f9c896','clade-desulfovibrionia');
  mk('circle',{cx:C[0],cy:C[1],r:48,fill:'#fff'},g);
  cladeLeaves.forEach(l=>{const p=cladeNodes[l[2]];mk('line',{x1:p[1],y1:p[2],x2:l[0],y2:l[1],stroke:'#555','stroke-width':1},g);});
  cladeNodes.forEach(n=>{if(n[3]>=0){const p=cladeNodes[n[3]];mk('line',{x1:p[1],y1:p[2],x2:n[1],y2:n[2],stroke:'#555','stroke-width':1.2},g);}});
  cladeLeaves.forEach(l=>{const c=mk('circle',{cx:l[0],cy:l[1],r:4,fill:'#fff',stroke:'#333','stroke-width':1},g);
    
    });
  cladeNodes.forEach(n=>{const c=mk('circle',{cx:n[1],cy:n[2],r:n[5],fill:cladeCol[n[4]],stroke:'#333','stroke-width':1},g);
    
    
    if(n[0]){const t=tx(n[0],{x:n[1]-n[5]-2,y:n[2]-n[5]-1,'font-size':10,'text-anchor':'end',class:'sans'},g);
      
      }});
  [['WT','G'],['5xFAD','L'],['5xFAD+QFY','O']].forEach((e,k)=>{const y=[2119,2141,2166][k];
    mk('rect',{x:17,y:y-6,width:8,height:12,fill:cladeCol[e[1]]},g);
    const t=tx(e[0],{x:42,y:y+6,'font-size':16},g);
    
    });
  const tt=tx('Taxa',{x:630,y:2092,'font-size':17},g);
  
  
  taxaCol1.forEach((e,k)=>{const y=2121+k*18.62;mk('rect',{x:629,y:y-9,width:15,height:18,fill:cladeCol[e[1]]},g);
    const t=tx(e[0],{x:652,y:y+5,'font-size':15},g);
    
    });
  taxaCol2.forEach((e,k)=>{const y=2119+k*18.62;mk('rect',{x:816,y:y-9,width:15,height:18,fill:cladeCol[e[1]]},g);
    const t=tx(e[0],{x:839,y:y+5,'font-size':15},g);
    
    });
})();

// ---------------- F: HEATMAP ----------------
const hmStops=[[-3,'#2f6aa8'],[-2,'#5592c4'],[-1,'#a9cfe4'],[-0.4,'#d6e6f1'],[0,'#f5f1ef'],[0.5,'#f9d8c6'],[1,'#f4ae8d'],[2,'#d6604d'],[2.6,'#b2182b'],[3.3,'#67001f']];
function hmColor(v){if(v<=hmStops[0][0])return hmStops[0][1];for(let i=1;i<hmStops.length;i++){if(v<=hmStops[i][0]){const t=(v-hmStops[i-1][0])/(hmStops[i][0]-hmStops[i-1][0]);const a=hexToRgb(hmStops[i-1][1]),b=hexToRgb(hmStops[i][1]);return `rgb(${Math.round(lerp(a[0],b[0],t))},${Math.round(lerp(a[1],b[1],t))},${Math.round(lerp(a[2],b[2],t))})`;}}return hmStops[hmStops.length-1][1];}
(function(){
  const g=mk('g',{});
  
  
  const x0=1005,y0=1466,cw=29.44,ch=30.2;
  hmRows.forEach((rn,r)=>{hmCols.forEach((cn,c)=>{
    const cell=mk('rect',{x:x0+c*cw,y:y0+r*ch,width:cw,height:ch,fill:hmColor(hmVals[r][c]),stroke:'#111','stroke-width':1.6},g);
    
    });
    const t=tx(rn,{x:1545,y:y0+r*ch+ch/2+7,'font-size':20.5},g);
    
    });
  mk('rect',{x:x0,y:y0,width:18*cw,height:hmRows.length*ch,fill:'none',stroke:'#111','stroke-width':2.2},g);
  const arrowX=[1669,0,0,0,0,0,0,1726,1726,0,0,0,0,1855,1642,1666];
  hmArrowRows.forEach(r=>{const ax=arrowX[r],y=y0+r*ch+ch/2;
    mk('line',{x1:ax+5,x2:ax+33,y1:y,y2:y,stroke:'#e00','stroke-width':1.5},g);
    mk('polygon',{points:`${ax},${y} ${ax+8},${y-3} ${ax+8},${y+3}`,fill:'#e00'},g);});
  hmCols.forEach((cn,c)=>{const t=tx(cn,{x:0,y:0,'font-size':27,transform:`translate(${x0+c*cw+5},${y0+hmRows.length*ch+6}) rotate(90)`},g);
    
    });
  [['wild type',1009,1175],['5xFAD',1185,1356],['5xFAD+QFY',1368,1535]].forEach(([n,a,b])=>{
    mk('line',{x1:a,x2:b,y1:2527,y2:2527,stroke:'#555'},g);
    const t=tx(n,{x:(a+b)/2,y:2544,'font-size':11,'font-weight':'bold','text-anchor':'middle'},g);
    
    });
  const cb=mk('g',{},g);
  
  
  const cy0=1469,cy1=1767;
  for(let i=0;i<60;i++){const v=3-6*(i+0.5)/60;mk('rect',{x:1847,y:cy0+i*(cy1-cy0)/60,width:19,height:(cy1-cy0)/60+0.6,fill:hmColor(v*0.93)},cb);}
  colorbarTicks.forEach(v=>{const y=cy0+(3-v)/6*(cy1-cy0);
    const t=tx(v<0?'\u2212'+(-v):String(v),{x:1872,y:y+6,'font-size':17},cb);
    
    });
})();
</script>
</body></html>
